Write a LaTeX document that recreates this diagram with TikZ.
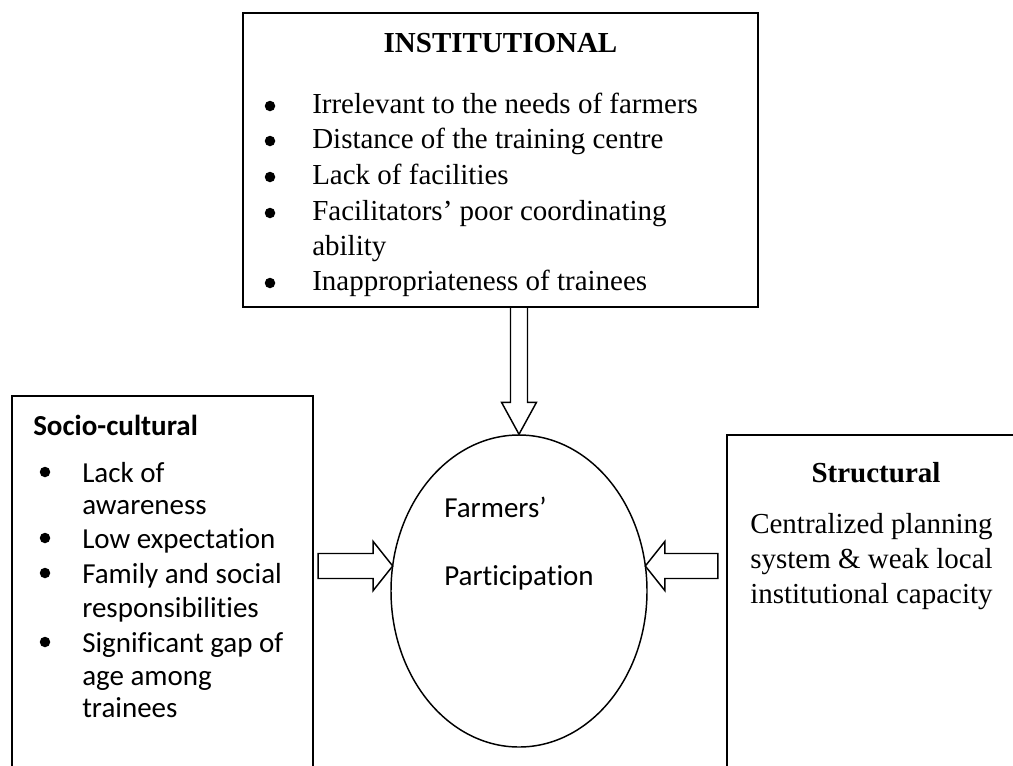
\documentclass[tikz,border=0pt]{standalone}
\usepackage{fontspec}
\setmainfont{Liberation Serif}
\newfontfamily\calib[Ligatures=NoCommon]{Carlito}
\usetikzlibrary{shapes.geometric,calc}
\begin{document}
\begin{tikzpicture}[x=0.75pt,y=-0.75pt,
  boxline/.style={draw=black,line width=1.6pt},
  blockarrow/.style={draw=black,line width=1.1pt,line join=miter,fill=white},
  serift/.style={inner sep=0pt,font=\fontsize{21.75}{26}\selectfont},
  calibt/.style={inner sep=0pt,font=\calib\fontsize{21.75}{26}\selectfont},
  bul/.style={circle,fill=black,inner sep=0pt,minimum size=10.5*0.75pt},
  txt/.style={serift,anchor=base west},
  ctxt/.style={calibt,anchor=base west}]
\useasboundingbox (0,0) rectangle (1013,765);
\clip (0,0) rectangle (1013,765);
\fill[white] (0,0) rectangle (1013,765);

% top box
\node[boxline,rectangle,minimum width=515*0.75pt,minimum height=294*0.75pt,inner sep=0pt] (inst) at (500.5,160) {};
\node[serift,anchor=base,font=\bfseries\fontsize{21.75}{26}\selectfont] (insttitle) at (500.5,52) {INSTITUTIONAL};
\node[bul] (ib1) at (270,106) {};
\node[txt] (it1) at (312,113) {Irrelevant to the needs of farmers};
\node[bul] (ib2) at (270,141) {};
\node[txt] (it2) at (312,148) {Distance of the training centre};
\node[bul] (ib3) at (270,177) {};
\node[txt] (it3) at (312,184) {Lack of facilities};
\node[bul] (ib4) at (270,213) {};
\node[txt] (it4) at (312,220) {Facilitators’ poor coordinating};
\node[txt] (it4b) at (312,255) {ability};
\node[bul] (ib5) at (270,283) {};
\node[txt] (it5) at (312,290) {Inappropriateness of trainees};

% left box (open at bottom)
\coordinate (lbl) at (12,770);
\coordinate (lbr) at (313,770);
\draw[boxline] (lbl) |- (313,396) -- (lbr);
\node[ctxt,font=\calib\bfseries\fontsize{21.75}{26}\selectfont] (sctitle) at (33,435) {Socio-cultural};
\node[bul] (sb1) at (45,472) {};
\node[ctxt] (st1) at (82,482) {Lack of};
\node[ctxt] (st1b) at (82,514) {awareness};
\node[bul] (sb2) at (45,538) {};
\node[ctxt] (st2) at (82,548) {Low expectation};
\node[bul] (sb3) at (45,573) {};
\node[ctxt] (st3) at (82,583) {Family and social};
\node[ctxt] (st3b) at (82,617) {responsibilities};
\node[bul] (sb4) at (45,642) {};
\node[ctxt] (st4) at (82,652) {Significant gap of};
\node[ctxt] (st4b) at (82,685) {age among};
\node[ctxt] (st4c) at (82,717) {trainees};

% right box (open at right and bottom)
\coordinate (rbl) at (727,770);
\coordinate (rbr) at (1020,435);
\draw[boxline] (rbl) |- (rbr);
\node[serift,anchor=base,font=\bfseries\fontsize{21.75}{26}\selectfont] (sttitle) at (876,482) {Structural};
\node[txt] (rt1) at (750,533) {Centralized planning};
\node[txt] (rt2) at (750,568) {system \& weak local};
\node[txt] (rt3) at (750,603) {institutional capacity};

% ellipse
\node[draw=black,line width=1.1pt,ellipse,minimum width=256*0.75pt,minimum height=312*0.75pt,inner sep=0pt] (ell) at (519,591) {};
\node[ctxt] (fp1) at (444,517) {Farmers’};
\node[ctxt] (fp2) at (444,585) {Participation};

% arrows
\coordinate (vt) at (ell.north);
\coordinate (vb) at (inst.south);
\draw[blockarrow] ($(vb -| vt)+(-8.5,0)$) -- ($(vt)+(-8.5,-32)$) -- ($(vt)+(-17.5,-32)$) -- (vt)
  -- ($(vt)+(17.5,-32)$) -- ($(vt)+(8.5,-32)$) -- ($(vb -| vt)+(8.5,0)$);

\coordinate (lt) at ($(ell.center)+(-126.3,-25)$);
\draw[blockarrow] (lt) -- ($(lt)+(-19.5,-24.5)$) -- ($(lt)+(-19.5,-12.5)$) -- ($(lt)+(-74.5,-12.5)$)
  -- ($(lt)+(-74.5,12.5)$) -- ($(lt)+(-19.5,12.5)$) -- ($(lt)+(-19.5,24.5)$) -- cycle;

\coordinate (rt) at ($(ell.center)+(126.3,-25)$);
\draw[blockarrow] (rt) -- ($(rt)+(19.5,-24.5)$) -- ($(rt)+(19.5,-12.5)$) -- ($(rt)+(72.5,-12.5)$)
  -- ($(rt)+(72.5,12.5)$) -- ($(rt)+(19.5,12.5)$) -- ($(rt)+(19.5,24.5)$) -- cycle;
\end{tikzpicture}
\end{document}
